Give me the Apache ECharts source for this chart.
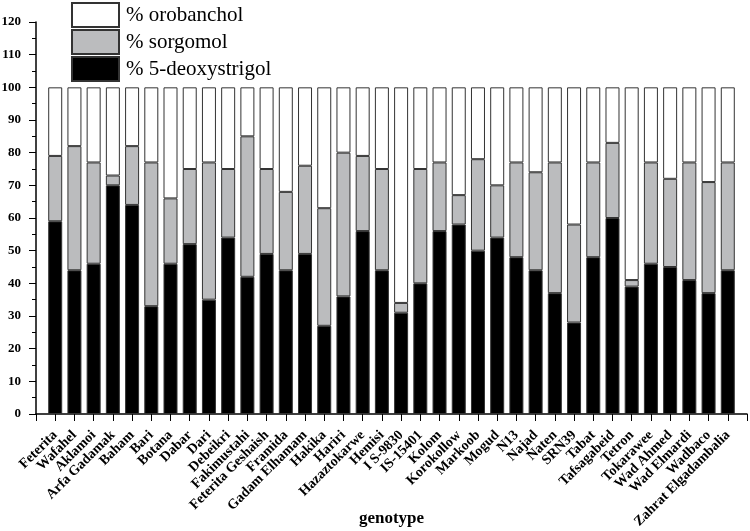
<!DOCTYPE html>
<html>
<head>
<meta charset="utf-8">
<script src="https://cdn.jsdelivr.net/npm/echarts@6/dist/echarts.min.js"></script>
<style>
  html, body { margin: 0; padding: 0; background: #fff; }
  #chart { width: 750px; height: 531px; }
</style>
</head>
<body>
<div id="chart"></div>
<script>
// genotypes, left to right
const genotypes = [
    "Feterita", "Wafahel", "Aklamoi", "Arfa Gadamak", "Baham", "Bari", "Botana", "Dabar",
    "Dari", "Debeikri", "Fakimustahi", "Feterita Geshaish", "Framida", "Gadam Elhamam",
    "Hakika", "Hariri", "Hazaztokarwe", "Hemisi", "I S-9830", "IS-15401", "Kolom",
    "Korokollow", "Markoob", "Mogud", "N13", "Najad", "Naten", "SRN39", "Tabat",
    "Tafsagabeid", "Tetron", "Tokarawee", "Wad Ahmed", "Wad Elmardi", "Wadbaco",
    "Zahrat Elgadambalia"
];

// % of each strigolactone (stacked to 100)
const deoxystrigol = [59, 44, 46, 70, 64, 33, 46, 52, 35, 54, 42, 49, 44, 49, 27, 36, 56, 44,
    31, 40, 56, 58, 50, 54, 48, 44, 37, 28, 48, 60, 39, 46, 45, 41, 37, 44];
const sorgomol = [20, 38, 31, 3, 18, 44, 20, 23, 42, 21, 43, 26, 24, 27, 36, 44, 23, 31,
    3, 35, 21, 9, 28, 16, 29, 30, 40, 30, 29, 23, 2, 31, 27, 36, 34, 33];
const orobanchol = [21, 18, 23, 27, 18, 23, 34, 25, 23, 25, 15, 25, 32, 24, 37, 20, 21, 25,
    66, 25, 23, 33, 22, 30, 23, 26, 23, 42, 23, 17, 59, 23, 28, 23, 29, 23];

const yTicks = { min: 0, max: 120, interval: 10 };

const chart = echarts.init(document.getElementById("chart"));

// empty slot at each end so the bars sit between the axis ends, as in the figure
const pad = arr => [null, ...arr, null];
const serif = "'Liberation Serif', 'Times New Roman', serif";
const edge = { borderColor: "#333", borderWidth: 1 };

chart.setOption({
    animation: false,
    backgroundColor: "#fff",
    textStyle: { fontFamily: serif },
    legend: {
        orient: "vertical",
        left: 71,
        top: 2,
        padding: 0,
        itemWidth: 47,
        itemHeight: 24,
        itemGap: 1,
        icon: "rect",
        data: ["% orobanchol", "% sorgomol", "% 5-deoxystrigol"],
        textStyle: { fontFamily: serif, fontSize: 21, lineHeight: 24, color: "#000", padding: [0, 0, 0, 2] }
    },
    grid: { left: 36, right: 3, top: 22, bottom: 117, outerBoundsMode: "none", containLabel: false },
    xAxis: {
        type: "category",
        boundaryGap: false,
        data: ["", ...genotypes, ""],
        name: "genotype",
        nameLocation: "middle",
        nameGap: 96,
        nameMoveOverlap: false,
        nameTextStyle: { fontFamily: serif, fontSize: 17, fontWeight: "bold", color: "#000" },
        axisLine: { lineStyle: { color: "#000", width: 1.5 } },
        axisTick: { inside: false, length: 7, alignWithLabel: true, lineStyle: { color: "#000" } },
        axisLabel: {
            interval: 0,
            rotate: 45,
            margin: 19,
            color: "#000",
            fontFamily: serif,
            fontWeight: "bold",
            fontSize: 14
        },
        splitLine: { show: false }
    },
    yAxis: {
        type: "value",
        min: yTicks.min,
        max: yTicks.max,
        interval: yTicks.interval,
        axisLine: { show: true, lineStyle: { color: "#000", width: 1.5 } },
        axisTick: { show: true, length: 7, lineStyle: { color: "#000" } },
        minorTick: { show: true, splitNumber: 2, length: 4, lineStyle: { color: "#000" } },
        axisLabel: { color: "#000", fontFamily: serif, fontWeight: "bold", fontSize: 13, margin: 15 },
        splitLine: { show: false }
    },
    series: [
        {
            name: "% 5-deoxystrigol",
            type: "bar",
            stack: "total",
            barWidth: 14,
            itemStyle: Object.assign({ color: "#000" }, edge),
            data: pad(deoxystrigol)
        },
        {
            name: "% sorgomol",
            type: "bar",
            stack: "total",
            barWidth: 14,
            itemStyle: Object.assign({ color: "#bbbcbe" }, edge),
            data: pad(sorgomol)
        },
        {
            name: "% orobanchol",
            type: "bar",
            stack: "total",
            barWidth: 14,
            itemStyle: Object.assign({ color: "#fff" }, edge),
            data: pad(orobanchol)
        }
    ]
});

window.addEventListener("resize", () => chart.resize());
</script>
</body>
</html>
